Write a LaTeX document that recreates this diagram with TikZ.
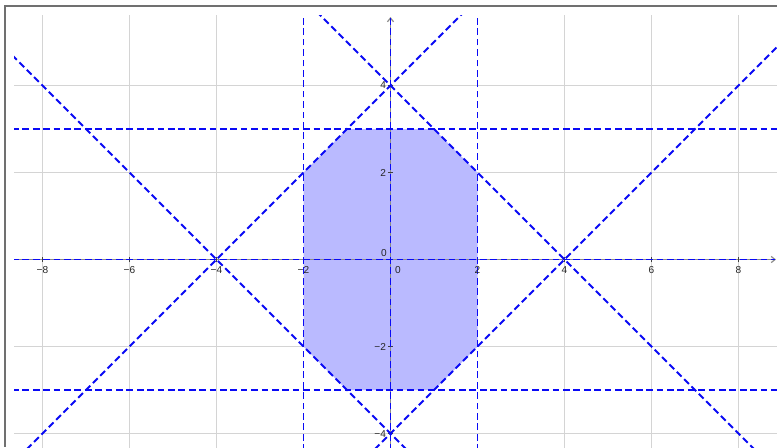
\documentclass[tikz,border=0pt]{standalone}
\usepackage{fontspec}
\setmainfont{Liberation Sans}
\usetikzlibrary{arrows.meta}
\definecolor{gridgray}{RGB}{212,212,212}
\definecolor{framegray}{RGB}{112,112,112}
\definecolor{fillblue}{RGB}{186,186,255}
\definecolor{lineblue}{RGB}{10,10,245}
\tikzset{
  gridline/.style={gridgray, line width=0.9pt},
  frameline/.style={framegray, line width=1.4pt},
  axisline/.style={black!45, line width=0.8pt},
  dashline/.style={lineblue, line width=1.25pt, dash pattern=on 4.4pt off 2.4pt},
  ticklabel/.style={font=\fontsize{6.6}{8}\selectfont, inner sep=0.5pt, text=black!85},
  region/.style={fill=fillblue}
}
\begin{document}
\begin{tikzpicture}
\useasboundingbox (-8.977,-4.310) rectangle (8.885,5.966);
\fill[white] (-8.977,-4.310) rectangle (8.885,5.966);
% frame
\coordinate (fc) at (-8.862,5.828);
\coordinate (fr) at (8.885,5.828);
\coordinate (fb) at (-8.862,-4.310);
\draw[frameline] (fr) -- (fc) -- (fb);
\begin{scope}
\clip (-8.655,-4.310) rectangle (8.885,5.621);
% grid
\foreach \x in {-8,-6,-4,4,6,8} \draw[gridline] (\x,-4.4) -- (\x,5.7);
\foreach \y in {-4,-2,2,4} \draw[gridline] (-8.7,\y) -- (8.9,\y);
% region
\coordinate (p1) at (-1,3);
\coordinate (p2) at (1,3);
\coordinate (p3) at (2,2);
\coordinate (p4) at (2,-2);
\coordinate (p5) at (1,-3);
\coordinate (p6) at (-1,-3);
\coordinate (p7) at (-2,-2);
\coordinate (p8) at (-2,2);
\fill[region] (p1) -- (p2) -- (p3) -- (p4) -- (p5) -- (p6) -- (p7) -- (p8) -- cycle;
% axes
\coordinate (xa0) at (-8.655,0);
\coordinate (xa1) at (8.862,0);
\coordinate (ya0) at (0,-4.4);
\coordinate (ya1) at (0,5.575);
\draw[axisline, -{Straight Barb[length=2.5pt,width=4pt]}] (xa0) -- (xa1);
\draw[axisline, -{Straight Barb[length=2.5pt,width=4pt]}] (ya0) -- (ya1);
\foreach \x in {-8,-6,-4,-2,2,4,6,8} \draw[black!75, line width=0.6pt] (\x,-0.06) -- (\x,0.06);
\foreach \y in {-4,-2,2,4} \draw[black!75, line width=0.6pt] (-0.06,\y) -- (0.06,\y);
% dashed lines
\draw[dashline] (-2,-4.4) -- (-2,5.7);
\draw[dashline] (2,-4.4) -- (2,5.7);
\draw[dashline] (0,-4.4) -- (0,5.55);
\draw[dashline] (-8.7,3) -- (8.9,3);
\draw[dashline] (-8.7,-3) -- (8.9,-3);
\draw[dashline] (-8.7,0) -- (8.84,0);
\draw[dashline] (-8.7,-4.7) -- (1.7,5.7);
\draw[dashline] (-1.7,5.7) -- (8.7,-4.7);
\draw[dashline] (-8.7,4.7) -- (0.7,-4.7);
\draw[dashline] (-0.7,-4.7) -- (8.9,4.9);
\end{scope}
% tick labels
\foreach \x in {-8,-6,-4,-2} \node[ticklabel] (lx\x) at (\x,-0.24) {−\the\numexpr-\x\relax};
\foreach \x in {2,4,6,8} \node[ticklabel] (lx\x) at (\x,-0.24) {\x};
\node[ticklabel] (lx0) at (0.17,-0.24) {0};
\node[ticklabel, anchor=east] (ly0) at (-0.06,0.14) {0};
\foreach \y in {2,4} \node[ticklabel, anchor=east] (ly\y) at (-0.08,\y) {\y};
\foreach \y in {-2,-4} \node[ticklabel, anchor=east] (ly\y) at (-0.08,\y) {−\the\numexpr-\y\relax};
\end{tikzpicture}
\end{document}
